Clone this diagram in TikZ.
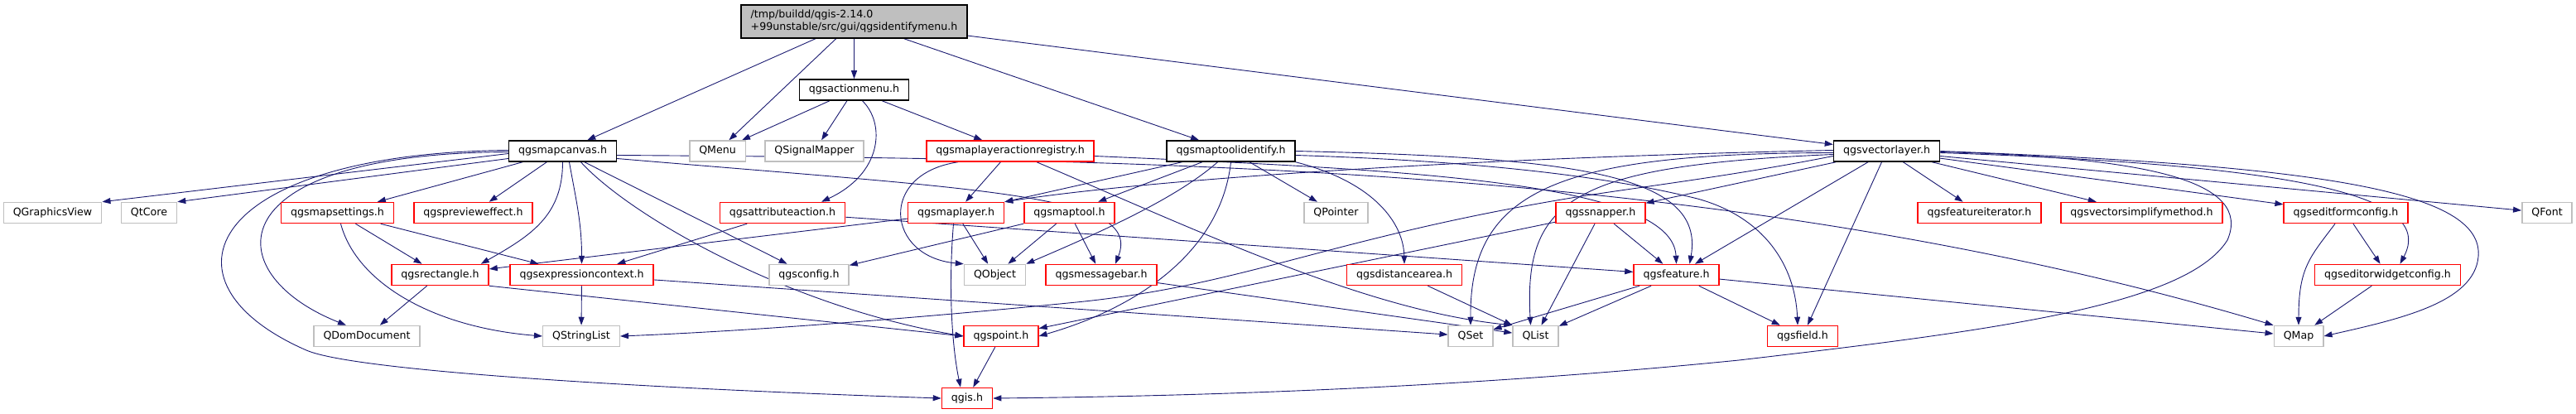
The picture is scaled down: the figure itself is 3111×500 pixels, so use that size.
\documentclass[tikz,border=0pt]{standalone}
\usepackage{fontspec}
\setmainfont{DejaVu Sans}
\usepackage{tikz}
\usetikzlibrary{arrows.meta}
\pgfdeclarelayer{edges}
\pgfsetlayers{edges,main}
\definecolor{edgeblue}{RGB}{25,25,112}
\definecolor{rootgrey}{RGB}{191,191,191}
\definecolor{sysgrey}{RGB}{191,191,191}
\definecolor{truncred}{RGB}{255,0,0}
\tikzset{
  filebox/.style={rectangle,fill=white,line width=1.5pt,minimum height=25pt,
    inner xsep=11.5pt,inner ysep=0pt,text height=9.6pt,text depth=3pt,
    font=\fontsize{12.6}{15}\selectfont},
  rootbox/.style={rectangle,draw=black,fill=rootgrey,line width=1.5pt,
    minimum height=40pt,inner xsep=11.5pt,align=left,
    font=\fontsize{12.6}{15}\selectfont},
  docbox/.style={filebox,draw=black},
  truncbox/.style={filebox,draw=truncred},
  sysbox/.style={filebox,draw=sysgrey},
  dep/.style={-{Triangle[length=10pt,width=7pt]},draw=edgeblue,line width=0.9pt}
}

\begin{document}
\begin{tikzpicture}[x=1pt,y=-1pt]
  \useasboundingbox (0,0) rectangle (3111,500);
  \node[rootbox] (root) at (1031.5,26)
    {/tmp/buildd/qgis-2.14.0\\+99unstable/src/gui/qgsidentifymenu.h};
  \node[docbox] (actionmenu) at (1031.5,108.5) {qgsactionmenu.h};
  \node[docbox] (mapcanvas) at (679.5,182.5) {qgsmapcanvas.h};
  \node[sysbox] (qmenu) at (866.5,182.5) {QMenu};
  \node[sysbox] (signalmapper) at (983.5,182.5) {QSignalMapper};
  \node[truncbox] (actionregistry) at (1220,182.5) {qgsmaplayeractionregistry.h};
  \node[docbox] (maptoolid) at (1486.5,182.5) {qgsmaptoolidentify.h};
  \node[docbox] (vectorlayer) at (2278.5,182.5) {qgsvectorlayer.h};

  \node[sysbox] (graphicsview) at (63.5,257) {QGraphicsView};
  \node[sysbox] (qtcore) at (180,257) {QtCore};
  \node[truncbox] (mapsettings) at (407.5,257) {qgsmapsettings.h};
  \node[truncbox] (previeweffect) at (571.5,257) {qgsprevieweffect.h};
  \node[truncbox] (attraction) at (945,257) {qgsattributeaction.h};
  \node[truncbox] (maplayer) at (1154.5,257) {qgsmaplayer.h};
  \node[truncbox] (maptool) at (1291.5,257) {qgsmaptool.h};
  \node[sysbox] (qpointer) at (1613.5,257) {QPointer};
  \node[truncbox] (snapper) at (1933,257) {qgssnapper.h};
  \node[truncbox] (featureiter) at (2390.5,257) {qgsfeatureiterator.h};
  \node[truncbox] (simplify) at (2586.5,257) {qgsvectorsimplifymethod.h};
  \node[truncbox] (editform) at (2833,257) {qgseditformconfig.h};
  \node[sysbox] (qfont) at (3076,257) {QFont};

  \node[truncbox] (rectangle) at (531.5,332) {qgsrectangle.h};
  \node[truncbox] (exprctx) at (702.5,332) {qgsexpressioncontext.h};
  \node[sysbox] (config) at (977,332) {qgsconfig.h};
  \node[sysbox] (qobject) at (1201.5,332) {QObject};
  \node[truncbox] (messagebar) at (1330,332) {qgsmessagebar.h};
  \node[truncbox] (distarea) at (1696,332) {qgsdistancearea.h};
  \node[truncbox] (feature) at (2024.5,332) {qgsfeature.h};
  \node[truncbox] (widgetcfg) at (2883.5,332) {qgseditorwidgetconfig.h};

  \node[sysbox] (domdoc) at (443,406) {QDomDocument};
  \node[sysbox] (stringlist) at (702,406) {QStringList};
  \node[truncbox] (point) at (1209,406) {qgspoint.h};
  \node[sysbox] (qset) at (1776,406) {QSet};
  \node[sysbox] (qlist) at (1854.5,406) {QList};
  \node[truncbox] (field) at (2177,406) {qgsfield.h};
  \node[sysbox] (qmap) at (2776,406) {QMap};

  \node[truncbox] (qgis) at (1168,481) {qgis.h};

  \begin{pgfonlayer}{edges}
  \draw[dep] (root) -- (mapcanvas);
  \draw[dep] (root) -- (qmenu);
  \draw[dep] (root) -- (actionmenu);
  \draw[dep] (root) -- (maptoolid);
  \draw[dep] (root) -- (vectorlayer);

  \draw[dep] (actionmenu) -- (qmenu);
  \draw[dep] (actionmenu) -- (signalmapper);
  \draw[dep] ([xshift=10pt]actionmenu.south) .. controls (1070,150) and (1065,210) .. ([xshift=47pt]attraction.north);
  \draw[dep] (actionmenu) -- (actionregistry);

  \draw[dep] ([yshift=-3pt]mapcanvas.west) -- (graphicsview.north east);
  \draw[dep] ([yshift=-9pt]mapcanvas.west) -- (qtcore.north east);
  \draw[dep] ([yshift=-1pt]mapcanvas.west) .. controls (260,185) and (260,330) .. ([xshift=-25pt]domdoc.north);
  \draw[dep] ([yshift=1pt]mapcanvas.west) .. controls (250,185) and (180,340) .. (370,423)
    .. controls (430,449) and (800,470) .. (qgis.west);
  \draw[dep] (mapcanvas) -- (mapsettings);
  \draw[dep] (mapcanvas) -- (previeweffect);
  \draw[dep] (mapcanvas.south) .. controls +(0,65) and +(60,-34) .. ([xshift=-10pt]rectangle.north east);
  \draw[dep] ([xshift=8pt]mapcanvas.south) .. controls +(8,45) and +(0,-50) .. (exprctx.north);
  \draw[dep] (mapcanvas) -- (config);
  \draw[dep] ([xshift=22pt]mapcanvas.south) .. controls (760,260) and (950,370) .. (point.west);
  \draw[dep] ([yshift=-9pt]mapcanvas.east) .. controls (1200,230) and (1380,235) .. ([xshift=17pt]messagebar.north);
  \draw[dep] ([yshift=-5pt]mapcanvas.east) .. controls (1400,192) and (2100,200) .. (qmap.north west);

  \draw[dep] (actionregistry) -- (maplayer);
  \draw[dep] ([xshift=-63pt]actionregistry.south) .. controls (1060,210) and (1070,310) .. (qobject.north west);
  \draw[dep] ([xshift=32pt]actionregistry.south) .. controls (1450,280) and (1650,375) .. (qlist.north west);
  \draw[dep] ([yshift=-6pt]actionregistry.east) .. controls (1700,205) and (2020,220) .. (feature.north);

  \draw[dep] (maptoolid) -- (maplayer);
  \draw[dep] (maptoolid) -- (maptool);
  \draw[dep] ([xshift=-16pt]maptoolid.south) .. controls (1420,240) and (1330,280) .. (qobject.north east);
  \draw[dep] (maptoolid.south) .. controls (1475,300) and (1380,370) .. (point.east);
  \draw[dep] (maptoolid) -- (qpointer);
  \draw[dep] (maptoolid.south east) .. controls (1660,220) and (1695,270) .. (distarea.north);
  \draw[dep] (maptoolid.east) .. controls (1900,190) and (2060,210) .. ([xshift=16pt]feature.north);
  \draw[dep] ([yshift=-5pt]maptoolid.east) .. controls (1800,195) and (1950,215) .. (2050,240)
    .. controls (2130,262) and (2168,320) .. ([xshift=-6pt]field.north);

  \draw[dep] ([yshift=1pt]vectorlayer.west) .. controls (1800,190) and (1400,215) .. (maplayer.north east);
  \draw[dep] ([yshift=-6pt]vectorlayer.west) .. controls (2080,215) and (1960,228) .. (1880,242)
    .. controls (1600,290) and (1500,345) .. (1300,365)
    .. controls (1100,385) and (900,400) .. (stringlist.east);
  \draw[dep] ([yshift=-2pt]vectorlayer.west) .. controls (1880,185) and (1775,230) .. (qset.north);
  \draw[dep] ([yshift=-4pt]vectorlayer.west) .. controls (1900,200) and (1840,240) .. ([xshift=-6pt]qlist.north);
  \draw[dep] (vectorlayer) -- (snapper);
  \draw[dep] (vectorlayer) -- (feature);
  \draw[dep] (vectorlayer) -- (field);
  \draw[dep] (vectorlayer) -- (featureiter);
  \draw[dep] (vectorlayer) -- (simplify);
  \draw[dep] (vectorlayer) -- (editform);
  \draw[dep] (vectorlayer) -- (qfont);
  \draw[dep] ([yshift=-2pt]vectorlayer.east) .. controls (2800,200) and (2940,240) .. ([xshift=15pt]widgetcfg.north);
  \draw[dep] (vectorlayer.east) .. controls (2800,200) and (3000,230) .. (2993,310)
    .. controls (2988,365) and (2900,385) .. (qmap.east);
  \draw[dep] ([yshift=-1pt]vectorlayer.east) .. controls (2600,190) and (2720,220) .. (2690,290)
    .. controls (2640,370) and (2400,400) .. (2100,435)
    .. controls (1800,465) and (1500,478) .. (qgis.east);

  \draw[dep] (attraction) -- (exprctx);
  \draw[dep] (attraction) -- (feature);
  \draw[dep] (mapsettings) -- (rectangle);
  \draw[dep] (mapsettings) -- (exprctx);
  \draw[dep] ([xshift=4pt]mapsettings.south) .. controls (430,340) and (520,395) .. (stringlist.west);
  \draw[dep] (rectangle) -- (domdoc);
  \draw[dep] (rectangle.south east) -- (point.west);
  \draw[dep] (exprctx) -- (stringlist);
  \draw[dep] (exprctx) -- (qset);
  \draw[dep] (maplayer) -- (rectangle);
  \draw[dep] (maplayer) -- (qobject);
  \draw[dep] ([xshift=-3pt]maplayer.south) .. controls (1145,350) and (1150,420) .. ([xshift=-8pt]qgis.north);
  \draw[dep] (maptool) -- (config);
  \draw[dep] (maptool) -- (qobject);
  \draw[dep] (maptool) -- (messagebar);
  \draw[dep] (point) -- (qgis);
  \draw[dep] (messagebar) -- (qlist);
  \draw[dep] (distarea) -- (qlist);
  \draw[dep] (snapper) -- (point);
  \draw[dep] (snapper) -- (qlist);
  \draw[dep] (snapper) -- (feature);
  \draw[dep] (feature) -- (qset);
  \draw[dep] (feature) -- (qlist);
  \draw[dep] (feature) -- (field);
  \draw[dep] (feature) -- (qmap);
  \draw[dep] (editform) -- (widgetcfg);
  \draw[dep] ([xshift=-13pt]editform.south) .. controls +(-30,40) and +(0,-70) .. (qmap.north);
  \draw[dep] (widgetcfg) -- (qmap);
  \end{pgfonlayer}
\end{tikzpicture}
\end{document}
